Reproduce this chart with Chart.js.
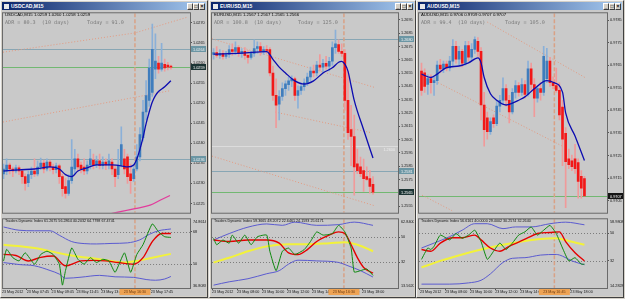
<!DOCTYPE html>
<html>
<head>
<meta charset="utf-8">
<title>USDCAD / EURUSD / AUDUSD M15</title>
<script src="https://cdn.jsdelivr.net/npm/chart.js@4.4.1/dist/chart.umd.min.js"></script>
<style>
  body { margin: 0; width: 625px; height: 299px; background: #d4d0c8; position: relative; overflow: hidden; font-family: Arial, "Liberation Sans", sans-serif; }
  .win { position: absolute; top: 0; height: 298px; box-sizing: border-box; border: 1px solid; border-color: #f4f4f4 #404040 #404040 #f4f4f4; background: #d4d0c8; }
  .title { position: absolute; left: 1px; right: 1px; top: 1px; height: 9px; box-sizing: border-box; padding-left: 9px; background: linear-gradient(90deg, #0a246a, #a6caf0); color: #fff; font-weight: bold; font-size: 5px; line-height: 9px; }
  .ico { position: absolute; left: 2px; top: 2px; width: 5px; height: 5px; background: #e8e8e8; }
  .btns { position: absolute; right: 1px; top: 1px; display: flex; }
  .btns span { width: 6px; height: 7px; box-sizing: border-box; background: #d4d0c8; border: 1px solid; border-color: #fff #404040 #404040 #fff; color: #000; font-size: 5px; line-height: 4px; text-align: center; font-weight: bold; }
  canvas { position: absolute; }
</style>
</head>
<body>
<div class="win" style="left:0;width:208px"><div class="title"><i class="ico"></i>USDCAD,M15<div class="btns"><span>_</span><span>□</span><span>×</span></div></div></div>
<div class="win" style="left:209px;width:207px"><div class="title"><i class="ico"></i>EURUSD,M15<div class="btns"><span>_</span><span>□</span><span>×</span></div></div></div>
<div class="win" style="left:416px;width:208px"><div class="title"><i class="ico"></i>AUDUSD,M15<div class="btns"><span>_</span><span>□</span><span>×</span></div></div></div>

<canvas id="p1" width="204" height="206" style="left:2px;top:10px"></canvas>
<canvas id="i1" width="204" height="80" style="left:2px;top:216px"></canvas>
<canvas id="p2" width="203" height="206" style="left:211px;top:10px"></canvas>
<canvas id="i2" width="203" height="80" style="left:211px;top:216px"></canvas>
<canvas id="p3" width="205" height="206" style="left:418px;top:10px"></canvas>
<canvas id="i3" width="205" height="80" style="left:418px;top:216px"></canvas>

<script>
// ---- USDCAD M15 ----
const cadOpen = [1.02324,1.02331,1.02346,1.02336,1.02331,1.02339,1.02331,1.02317,1.02302,1.02322,
  1.02331,1.02324,1.02341,1.02351,1.02336,1.02353,1.02341,1.02334,1.02344,1.02317,
  1.02292,1.02275,1.02307,1.02336,1.02361,1.02346,1.02341,1.02331,1.02346,1.02358,
  1.02346,1.02356,1.02344,1.02353,1.02346,1.02353,1.02336,1.02322,1.02346,1.02361,
  1.02366,1.02324,1.02312,1.02336,1.02366,1.02414,1.02478,1.02507,1.02527,1.02585,
  1.02600,1.02585,1.02597,1.02595,1.02592];
const cadHigh = [1.02348,1.02361,1.02351,1.02341,1.02346,1.02344,1.02336,1.02324,1.02331,1.02341,
  1.02361,1.02356,1.02363,1.02358,1.02361,1.02358,1.02348,1.02351,1.02348,1.02324,
  1.02312,1.02322,1.02409,1.02385,1.02373,1.02353,1.02361,1.02356,1.02385,1.02373,
  1.02368,1.02373,1.02366,1.02361,1.02373,1.02361,1.02346,1.02385,1.02441,1.02385,
  1.02373,1.02348,1.02348,1.02397,1.02439,1.02507,1.02556,1.02610,1.02697,1.02673,
  1.02617,1.02649,1.02610,1.02602,1.02595];
const cadLow = [1.02312,1.02322,1.02324,1.02317,1.02326,1.02322,1.02300,1.02283,1.02292,1.02312,
  1.02317,1.02319,1.02334,1.02326,1.02331,1.02331,1.02324,1.02326,1.02300,1.02268,
  1.02263,1.02270,1.02300,1.02324,1.02331,1.02326,1.02322,1.02324,1.02336,1.02336,
  1.02339,1.02336,1.02336,1.02334,1.02336,1.02322,1.02292,1.02312,1.02341,1.02324,
  1.02300,1.02275,1.02305,1.02331,1.02356,1.02405,1.02458,1.02492,1.02517,1.02561,
  1.02575,1.02580,1.02580,1.02583,1.02585];
const cadClose = [1.02336,1.02346,1.02336,1.02331,1.02339,1.02331,1.02317,1.02300,1.02322,1.02331,
  1.02324,1.02341,1.02351,1.02336,1.02353,1.02341,1.02334,1.02344,1.02317,1.02287,
  1.02275,1.02307,1.02341,1.02361,1.02341,1.02336,1.02331,1.02346,1.02361,1.02346,
  1.02356,1.02344,1.02353,1.02346,1.02356,1.02336,1.02317,1.02346,1.02397,1.02336,
  1.02317,1.02307,1.02336,1.02366,1.02422,1.02478,1.02519,1.02588,1.02634,1.02605,
  1.02585,1.02600,1.02588,1.02590,1.02590];
const cadMaX = [0,5,10,15,18,20,22,24,27,30,35,38,40,42,43,44,45,46,47,48,49,50,52,54];
const cadMa = [1.02331,1.02334,1.02336,1.02341,1.02336,1.02322,1.02317,1.02331,1.02339,1.02346,1.02346,1.02344,
  1.02341,1.02346,1.02361,1.02385,1.02414,1.02449,1.02478,1.02503,1.02519,1.02529,1.02541,1.02556];
const cadPinkX = [33, 42.4, 47.3, 50.5, 53.7];
const cadPink = [1.02222, 1.02237, 1.02246, 1.02258, 1.02270];
const cadTrendX = [[-0.16, 42.4, 59.2], [-0.16, 53.7]];
const cadTrendY = [[1.02627, 1.02675, 1.02714], [1.02453, 1.02531]];
const cadTicks = [1.0225, 1.0230, 1.0235, 1.0240, 1.0245, 1.0250, 1.0255, 1.0260, 1.0265, 1.0270];
const cadLevels = [1.02635, 1.02361];
const cadUpX = [0,5,10,15,18,22,26,30,35,40,44,47,50,54];
const cadUp = [70.6,68.8,68.5,68.5,66,62.5,61.4,61.2,61.5,61.8,63.5,66.5,68.5,69.5];
const cadDnX = [0,5,10,15,18,20,25,31,36,42,46,49,52,54];
const cadDn = [50.9,49.8,49.1,46.5,44.5,42.2,42.8,43.8,43.0,42.7,41.5,41.1,41.8,43.2];
const cadBaseX = [0,10,20,31,39,43,48,54];
const cadBase = [60.8,59.0,55.4,52.7,50.9,51.8,53.6,55.7];
const cadSigX = [0,4,8,12,16,20,25,29,33,37,42,45,48,51,54];
const cadSig = [55.4,54.8,51.8,53.8,54.5,49.1,51.8,52.1,51.8,50.9,50.0,53.6,62.5,67.0,67.0];
const cadRsiX = [0,1,3,5,7,10,12,14,16,18,19,20,22,24,26,28,30,32,34,36,39,41,43,45,48,50,52,54];
const cadRsi = [51.8,58.2,53.6,51.8,56.3,50.0,55.4,57.2,55.4,50.0,38.4,46.5,59.0,52.7,50.0,53.6,50.9,52.7,51.8,45.5,
  56.3,45.5,55.4,60.8,72.3,67.9,65.2,64.8];
const cadTdiLevels = [50, 68];
const cadTimes = ['23 May 2012','23 May 07:45','23 May 09:45','23 May 11:45','23 May 13:45','23 May 15:45','23 May 17:45'];

// ---- EURUSD M15 ----
const eurOpen = [1.26690,1.26705,1.26683,1.26698,1.26676,1.26690,1.26727,1.26713,1.26742,1.26698,
  1.26713,1.26683,1.26668,1.26698,1.26735,1.26749,1.26713,1.26727,1.26727,1.26551,
  1.26382,1.26316,1.26374,1.26433,1.26463,1.26492,1.26507,1.26382,1.26419,1.26448,
  1.26477,1.26521,1.26566,1.26551,1.26610,1.26595,1.26624,1.26602,1.26639,1.26742,
  1.26764,1.26713,1.26698,1.26345,1.26125,1.26073,1.25867,1.25845,1.25816,1.25772,
  1.25757,1.25713];
const eurHigh = [1.26735,1.26749,1.26727,1.26720,1.26713,1.26757,1.26771,1.26786,1.26757,1.26735,
  1.26742,1.26720,1.26713,1.26801,1.26786,1.26779,1.26749,1.26757,1.26742,1.26602,
  1.26507,1.26419,1.26477,1.26492,1.26521,1.26529,1.26521,1.26455,1.26477,1.26507,
  1.26551,1.26595,1.26610,1.26639,1.26690,1.26654,1.26676,1.26668,1.26786,1.26874,
  1.26801,1.26771,1.26727,1.26566,1.26308,1.26235,1.25978,1.25919,1.25904,1.25845,
  1.25816,1.25772];
const eurLow = [1.26654,1.26668,1.26661,1.26654,1.26661,1.26668,1.26683,1.26690,1.26676,1.26668,
  1.26654,1.26624,1.26654,1.26676,1.26698,1.26683,1.26690,1.26698,1.26529,1.26345,
  1.26139,1.26198,1.26345,1.26382,1.26419,1.26448,1.26345,1.26286,1.26389,1.26419,
  1.26455,1.26492,1.26521,1.26529,1.26566,1.26551,1.26580,1.26566,1.26610,1.26698,
  1.26698,1.26676,1.26272,1.26051,1.25853,1.25632,1.25794,1.25772,1.25661,1.25742,
  1.25647,1.25639];
const eurClose = [1.26705,1.26683,1.26698,1.26676,1.26690,1.26727,1.26713,1.26742,1.26698,1.26713,
  1.26683,1.26668,1.26698,1.26735,1.26749,1.26713,1.26727,1.26720,1.26551,1.26382,
  1.26308,1.26374,1.26433,1.26470,1.26492,1.26507,1.26382,1.26419,1.26448,1.26477,
  1.26521,1.26566,1.26551,1.26610,1.26595,1.26624,1.26602,1.26639,1.26742,1.26771,
  1.26713,1.26698,1.26345,1.26102,1.26073,1.25845,1.25816,1.25794,1.25757,1.25750,
  1.25698,1.25654];
const eurMaX = [0,9,17,19,21,23,26,29,32,35,38,40,41,42,43,44,45,48,51];
const eurMa = [1.26693,1.26700,1.26712,1.26654,1.26595,1.26551,1.26492,1.26468,1.26492,1.26551,
  1.26590,1.26632,1.26639,1.26617,1.26565,1.26455,1.26345,1.26124,1.25911];
const eurTrendX = [[-0.5, 51.7], [19.7, 50.4], [-0.5, 51.7]];
const eurTrendY = [[1.26808, 1.26441], [1.26257, 1.26102], [1.25926, 1.25551]];
const eurTicks = [1.2555, 1.2565, 1.2575, 1.2585, 1.2595, 1.2605, 1.2615, 1.2625, 1.2635, 1.2645,
  1.2655, 1.2665, 1.2675, 1.2685, 1.2695];
const eurLevels = [1.26803, 1.25811];
const eurRound = 1.2600;
const eurUpX = [0,5,11,17,22,26,33,40,45,51];
const eurUp = [48,52.6,57.2,59.5,58.5,60.8,58.5,59,60.8,58.5];
const eurDnX = [0,5,11,17,21,24,27,33,40,43,47,51];
const eurDn = [15.6,18,20.2,23.8,26,30.7,33.5,33,31.9,29.5,26,21.4];
const eurBaseX = [0,5,11,17,24,30,37,42,46,51];
const eurBase = [31.9,35.3,39.9,43.4,45,45,45.7,46.4,44.6,39.9];
const eurSigX = [0,5,11,17,21,24,27,30,33,37,40,42,44,46,48,51];
const eurSig = [48,46.9,48,48,45.7,38.8,37.6,41.1,46.9,51.5,53.8,52.6,44.6,35.3,28.3,24.2];
const eurRsiX = [0,1,3,5,6,8,10,12,14,17,18,20,22,24,26,29,31,33,35,38,40,42,44,45,47,49,51];
const eurRsi = [49.2,44.6,48,45.7,51.5,45.7,51.5,44.6,50.3,51.5,39.9,26,39.9,42.2,37.6,41.1,46.9,53.8,51.5,52.6,
  58.5,53.8,42.2,25,26,27.2,22.6];
const eurTdiLevels = [32, 50];
const eurTimes = ['23 May 2012','23 May 08:00','23 May 10:00','23 May 12:00','23 May 14:00','23 May 16:00','23 May 18:00'];

// ---- AUDUSD M15 ----
const audOpen = [0.97625,0.97617,0.97565,0.97591,0.97573,0.97582,0.97651,0.97634,0.97656,0.97638,
  0.97669,0.97734,0.97677,0.97712,0.97660,0.97738,0.97686,0.97721,0.97756,0.97712,
  0.97474,0.97417,0.97356,0.97417,0.97391,0.97469,0.97495,0.97547,0.97495,0.97443,
  0.97530,0.97560,0.97530,0.97565,0.97521,0.97634,0.97565,0.97504,0.97547,0.97530,
  0.97591,0.97669,0.97573,0.97560,0.97539,0.97465,0.97348,0.97235,0.97226,0.97235,
  0.97218,0.97157,0.97148];
const audHigh = [0.97660,0.97634,0.97608,0.97608,0.97599,0.97669,0.97677,0.97669,0.97669,0.97690,
  0.97764,0.97756,0.97734,0.97721,0.97756,0.97756,0.97747,0.97777,0.97773,0.97729,
  0.97530,0.97443,0.97417,0.97430,0.97495,0.97517,0.97595,0.97565,0.97517,0.97547,
  0.97582,0.97573,0.97591,0.97582,0.97669,0.97660,0.97591,0.97560,0.97573,0.97734,
  0.97725,0.97686,0.97599,0.97638,0.97573,0.97495,0.97374,0.97278,0.97252,0.97300,
  0.97235,0.97183,0.97157];
const audLow = [0.97517,0.97530,0.97521,0.97526,0.97517,0.97565,0.97617,0.97617,0.97625,0.97625,
  0.97643,0.97660,0.97651,0.97643,0.97651,0.97669,0.97669,0.97703,0.97690,0.97408,
  0.97291,0.97322,0.97343,0.97374,0.97382,0.97443,0.97479,0.97469,0.97395,0.97434,
  0.97504,0.97513,0.97517,0.97504,0.97513,0.97539,0.97422,0.97487,0.97495,0.97517,
  0.97573,0.97556,0.97547,0.97530,0.97408,0.97205,0.97018,0.97192,0.97183,0.97170,
  0.97061,0.97061,0.97070];
const audClose = [0.97539,0.97556,0.97591,0.97573,0.97582,0.97651,0.97634,0.97656,0.97638,0.97669,
  0.97734,0.97677,0.97712,0.97660,0.97738,0.97686,0.97721,0.97764,0.97712,0.97474,
  0.97365,0.97356,0.97400,0.97391,0.97469,0.97495,0.97547,0.97495,0.97443,0.97530,
  0.97560,0.97530,0.97565,0.97521,0.97634,0.97565,0.97504,0.97547,0.97530,0.97690,
  0.97669,0.97573,0.97560,0.97539,0.97430,0.97322,0.97222,0.97209,0.97200,0.97192,
  0.97135,0.97105,0.97071];
const audMaX = [0,3,5,8,12,15,18,19,20,22,24,27,29,31,33,36,40,42,45,46,49,52];
const audMa = [0.97611,0.97596,0.97611,0.97640,0.97647,0.97661,0.97683,0.97661,0.97596,0.97524,0.97495,
  0.97474,0.97482,0.97495,0.97510,0.97546,0.97582,0.97575,0.97531,0.97439,0.97336,0.97228];
const audTrendX = [[21.0, 52.3], [5.3, 45.0], [0.16, 9.76]];
const audTrendY = [[0.97842, 0.97595], [0.97573, 0.97291], [0.97074, 0.97005]];
const audTicks = [0.9705, 0.9715, 0.9725, 0.9735, 0.9745, 0.9755, 0.9765, 0.9775, 0.9785];
const audUpX = [0,4,9,13,17,21,26,30,35,41,46,52];
const audUp = [40.3,43.5,47.7,51.9,56.1,56.1,52.9,54,54,56.1,57.1,55.4];
const audDnX = [0,9,15,19,22,26,29,33,38,43,45,48,52];
const audDn = [16.8,16.8,17.6,19.3,23.5,30.9,33.6,34,35.7,36.1,35,31.9,29.4];
const audBaseX = [0,6,13,19,26,32,38,43,47,52];
const audBase = [27.7,31.9,36.1,39.3,42.4,44.5,46.2,46.6,44.9,42.4];
const audSigX = [0,3,6,10,13,17,19,22,25,28,31,34,37,41,44,46,49,52];
const audSig = [39.3,38.2,43.5,47,47,48.7,45.6,40.3,38.2,41.4,44.1,47,49.7,50.4,50.8,44.5,37.2,31.9];
const audRsiX = [0,2,3,4,6,9,11,13,15,17,19,21,23,25,27,29,31,33,35,37,39,41,43,45,47,49,51,52];
const audRsi = [32.9,40.3,39.3,41.4,48.7,45.6,49.7,46.6,48.7,51.9,44.5,32.9,38.2,43.5,39.3,43.5,48.7,50.8,54,48.7,
  51.9,55,49.7,40.3,31.9,34,29.8,29.8];
const audTdiLevels = [32, 50];

const timeTicks = [-0.5, 7.5, 15.5, 23.5, 31.5, 39.5, 47.5];

const bullBody = '#3f7dbd', bullWick = '#8bb0d8', bearBody = '#f21818', bearWick = '#f09a9a';
const axisFont = { family: 'Arial', size: 3.8 };
const monoFont = '5.1px "DejaVu Sans Mono", monospace';

function candles(open, high, low, close) {
  const up = i => close[i] >= open[i];
  return [
    {
      type: 'bar',
      data: open.map((o, i) => ({ x: i, y: [low[i], high[i]] })),
      backgroundColor: open.map((o, i) => up(i) ? bullWick : bearWick),
      barThickness: 1,
      grouped: false,
      order: 4
    },
    {
      type: 'bar',
      data: open.map((o, i) => ({ x: i, y: [Math.min(o, close[i]), Math.max(o, close[i])] })),
      backgroundColor: open.map((o, i) => up(i) ? bullBody : bearBody),
      barThickness: 2,
      minBarLength: 1,
      grouped: false,
      order: 3
    }
  ];
}

function line(xs, ys, color, width, extra) {
  return Object.assign({
    type: 'line',
    data: xs.map((x, i) => ({ x: x, y: ys[i] })),
    borderColor: color,
    borderWidth: width,
    pointRadius: 0,
    fill: false,
    cubicInterpolationMode: 'monotone',
    order: 1
  }, extra || {});
}

// background, horizontal/vertical lines, axis boxes and texts
function decoration(d) {
  return {
    id: 'mtDeco',
    beforeDraw(chart) {
      const { ctx, width, height } = chart;
      ctx.save();
      ctx.fillStyle = '#c9c9c9';
      ctx.fillRect(0, 0, width, height);
      ctx.restore();
    },
    beforeDatasetsDraw(chart) {
      const { ctx, chartArea: a, scales: { x, y } } = chart;
      ctx.save();
      ctx.beginPath();
      ctx.rect(a.left, a.top, a.right - a.left, a.bottom - a.top);
      ctx.clip();
      (d.hlines || []).forEach(h => {
        const py = Math.round(y.getPixelForValue(h.v)) + 0.5;
        ctx.strokeStyle = h.line;
        ctx.lineWidth = 1;
        ctx.setLineDash(h.dash || []);
        ctx.beginPath();
        ctx.moveTo(a.left, py);
        ctx.lineTo(a.right, py);
        ctx.stroke();
        if (h.label) {
          ctx.font = '3.8px Arial';
          ctx.fillStyle = h.label;
          ctx.textAlign = 'right';
          ctx.fillText(h.v.toFixed(4), a.right - 3, py + 4);
        }
      });
      if (d.vline != null) {
        const px = x.getPixelForValue(d.vline);
        ctx.strokeStyle = '#d9a185';
        ctx.lineWidth = 1.5;
        ctx.setLineDash([4, 2]);
        ctx.beginPath();
        ctx.moveTo(px, a.top);
        ctx.lineTo(px, a.bottom);
        ctx.stroke();
      }
      ctx.restore();
    },
    afterDraw(chart) {
      const { ctx, chartArea: a, scales: { x, y } } = chart;
      ctx.save();
      ctx.strokeStyle = '#6a6a6a';
      ctx.lineWidth = 1;
      ctx.strokeRect(a.left - 0.5, a.top - 0.5, a.right - a.left + 1, a.bottom - a.top + 1);
      ctx.textBaseline = 'middle';
      (d.hlines || []).filter(h => h.box).forEach(h => {
        const py = Math.round(y.getPixelForValue(h.v));
        ctx.fillStyle = h.box;
        ctx.fillRect(a.right + 1, py - 3, 15, 6);
        ctx.fillStyle = h.fg;
        ctx.font = '3.8px Arial';
        ctx.textAlign = 'left';
        ctx.fillText(h.v.toFixed(4), a.right + 3, py + 0.5);
      });
      (d.texts || []).forEach(t => {
        ctx.font = t.font;
        ctx.fillStyle = t.color;
        ctx.textAlign = 'left';
        ctx.fillText(t.text, t.x, t.y);
      });
      if (d.edge) {
        ctx.font = '3.8px Arial';
        ctx.fillStyle = '#151515';
        ctx.textAlign = 'left';
        ctx.fillText(d.edge[0], a.right + 3, a.top + 3);
        ctx.fillText(d.edge[1], a.right + 3, a.bottom - 2);
      }
      if (d.timeBox) {
        const px = x.getPixelForValue(d.vline);
        ctx.fillStyle = '#eea354';
        ctx.fillRect(px - 15.5, a.bottom + 1, 31, 6);
        ctx.fillStyle = '#6b3a10';
        ctx.font = '3.7px Arial';
        ctx.textAlign = 'center';
        ctx.fillText(d.timeBox, px, a.bottom + 4.3);
      }
      ctx.restore();
    }
  };
}

function priceChart(id, s) {
  const sets = candles(s.open, s.high, s.low, s.close);
  s.trendX.forEach((xs, k) => {
    sets.push(line(xs, s.trendY[k], '#e49a80', 1, { borderDash: [1, 2], cubicInterpolationMode: 'default', tension: 0, order: 5 }));
  });
  sets.push(line(s.maX, s.ma, '#0c0cb0', 1.3));
  if (s.pinkX) sets.push(line(s.pinkX, s.pink, '#e23c9c', 1.3));
  return new Chart(document.getElementById(id), {
    type: 'bar',
    data: { datasets: sets },
    options: {
      responsive: false,
      animation: false,
      events: [],
      layout: { padding: { left: 1, top: 1, right: 0, bottom: 1 } },
      scales: {
        x: { type: 'linear', min: s.xMin, max: s.xMax, offset: false, display: false },
        y: {
          position: 'right',
          min: s.yMin,
          max: s.yMax,
          afterBuildTicks: sc => { sc.ticks = s.ticks.map(v => ({ value: v })); },
          afterFit: sc => { sc.width = 16; },
          ticks: { color: '#151515', font: axisFont, padding: 1, autoSkip: false, callback: v => v.toFixed(4) },
          grid: { drawOnChartArea: false, tickLength: 2, color: '#555' },
          border: { display: false }
        }
      },
      plugins: { legend: { display: false }, tooltip: { enabled: false } }
    },
    plugins: [decoration(s.deco)]
  });
}

function tdiChart(id, s) {
  const sets = [
    line(s.upX, s.up, '#5b5bd0', 1, { order: 4 }),
    line(s.dnX, s.dn, '#5b5bd0', 1, { order: 4 }),
    line(s.baseX, s.base, '#f2f23a', 2, { order: 3 }),
    line(s.sigX, s.sig, '#e40000', 1.4, { order: 2 }),
    line(s.rsiX, s.rsi, '#0f8a0f', 1, { order: 1, cubicInterpolationMode: 'default', tension: 0.15 })
  ];
  return new Chart(document.getElementById(id), {
    type: 'line',
    data: { datasets: sets },
    options: {
      responsive: false,
      animation: false,
      events: [],
      layout: { padding: { left: 1, top: 1, right: 0, bottom: 0 } },
      scales: {
        x: {
          type: 'linear',
          min: s.xMin,
          max: s.xMax,
          offset: false,
          afterBuildTicks: sc => { sc.ticks = timeTicks.map(v => ({ value: v })); },
          afterFit: sc => { sc.height = 8; },
          ticks: { color: '#151515', font: { family: 'Arial', size: 3.7 }, padding: 0, align: 'start', autoSkip: false, maxRotation: 0, callback: (v, i) => s.times[i] },
          grid: { drawOnChartArea: false, tickLength: 2, color: '#555' },
          border: { display: false }
        },
        y: {
          position: 'right',
          min: s.yMin,
          max: s.yMax,
          afterBuildTicks: sc => { sc.ticks = s.levels.map(v => ({ value: v })); },
          afterFit: sc => { sc.width = 16; },
          ticks: { color: '#151515', font: axisFont, padding: 1, autoSkip: false, callback: v => String(v) },
          grid: { drawOnChartArea: false, tickLength: 2, color: '#555' },
          border: { display: false }
        }
      },
      plugins: { legend: { display: false }, tooltip: { enabled: false } }
    },
    plugins: [decoration(s.deco)]
  });
}

const steel = { line: '#88a6b4', box: '#6b96a4', fg: '#f2f2f2' };

priceChart('p1', {
  open: cadOpen, high: cadHigh, low: cadLow, close: cadClose,
  maX: cadMaX, ma: cadMa, pinkX: cadPinkX, pink: cadPink,
  trendX: cadTrendX, trendY: cadTrendY, ticks: cadTicks,
  xMin: -0.16, xMax: 60.16, yMin: 1.02227, yMax: 1.02724,
  deco: {
    vline: 42.4,
    hlines: [
      Object.assign({ v: cadLevels[0] }, steel),
      Object.assign({ v: cadLevels[1] }, steel),
      { v: cadClose[cadClose.length - 1], line: '#72b872', box: '#1c3434', fg: '#ffffff' }
    ],
    texts: [
      { text: 'USDCAD,M15 1.0259 1.0260 1.0258 1.0259', x: 3, y: 4.5, font: '4.3px Arial', color: '#000' },
      { text: 'ADR = 80.3  (10 days)', x: 3, y: 12.5, font: monoFont, color: '#7a7a7a' },
      { text: 'Today = 91.0', x: 85, y: 12.5, font: monoFont, color: '#7a7a7a' }
    ]
  }
});
tdiChart('i1', {
  upX: cadUpX, up: cadUp, dnX: cadDnX, dn: cadDn, baseX: cadBaseX, base: cadBase,
  sigX: cadSigX, sig: cadSig, rsiX: cadRsiX, rsi: cadRsi,
  levels: cadTdiLevels, times: cadTimes,
  xMin: -0.16, xMax: 60.16, yMin: 36.8083, yMax: 74.8614,
  deco: {
    vline: 42.4,
    timeBox: '23 May 16:30',
    edge: ['74.8614', '36.8083'],
    hlines: cadTdiLevels.map(v => ({ v: v, line: '#7c7c7c', dash: [1, 2] })),
    texts: [{ text: 'Traders Dynamic Index 61.2675 56.2864 40.2032 64.7798 67.4741', x: 3, y: 4.5, font: '3.7px Arial', color: '#111' }]
  }
});

priceChart('p2', {
  open: eurOpen, high: eurHigh, low: eurLow, close: eurClose,
  maX: eurMaX, ma: eurMa,
  trendX: eurTrendX, trendY: eurTrendY, ticks: eurTicks,
  xMin: -0.5, xMax: 59.0, yMin: 1.2550, yMax: 1.2700,
  deco: {
    vline: 41.7,
    hlines: [
      Object.assign({ v: eurLevels[0] }, steel),
      Object.assign({ v: eurLevels[1] }, steel),
      { v: eurRound, line: '#dcdcdc', label: '#eeeeee' },
      { v: eurClose[eurClose.length - 1], line: '#72b872', box: '#1c3434', fg: '#ffffff' }
    ],
    texts: [
      { text: 'EURUSD,M15 1.2567 1.2567 1.2565 1.2566', x: 3, y: 4.5, font: '4.3px Arial', color: '#000' },
      { text: 'ADR = 100.8  (10 days)', x: 3, y: 12.5, font: monoFont, color: '#7a7a7a' },
      { text: 'Today = 125.0', x: 87, y: 12.5, font: monoFont, color: '#7a7a7a' }
    ]
  }
});
tdiChart('i2', {
  upX: eurUpX, up: eurUp, dnX: eurDnX, dn: eurDn, baseX: eurBaseX, base: eurBase,
  sigX: eurSigX, sig: eurSig, rsiX: eurRsiX, rsi: eurRsi,
  levels: eurTdiLevels, times: eurTimes,
  xMin: -0.5, xMax: 59.0, yMin: 13.562, yMax: 62.84,
  deco: {
    vline: 41.7,
    timeBox: '23 May 16:30',
    edge: ['62.8400', '13.5620'],
    hlines: eurTdiLevels.map(v => ({ v: v, line: '#7c7c7c', dash: [1, 2] })),
    texts: [{ text: 'Traders Dynamic Index 59.3665 48.2072 22.6461 24.1593 25.6171', x: 3, y: 4.5, font: '3.7px Arial', color: '#111' }]
  }
});

priceChart('p3', {
  open: audOpen, high: audHigh, low: audLow, close: audClose,
  maX: audMaX, ma: audMa,
  trendX: audTrendX, trendY: audTrendY, ticks: audTicks,
  xMin: -0.8, xMax: 59.2, yMin: 0.96996, yMax: 0.97881,
  deco: {
    vline: 42.4,
    hlines: [
      { v: audClose[audClose.length - 1], line: '#72b872', box: '#141414', fg: '#ffffff' }
    ],
    texts: [
      { text: 'AUDUSD,M15 0.9706 0.9709 0.9707 0.9707', x: 3, y: 4.5, font: '4.3px Arial', color: '#000' },
      { text: 'ADR = 99.4  (10 days)', x: 3, y: 12.5, font: monoFont, color: '#7a7a7a' },
      { text: 'Today = 105.0', x: 87, y: 12.5, font: monoFont, color: '#7a7a7a' }
    ]
  }
});
tdiChart('i3', {
  upX: audUpX, up: audUp, dnX: audDnX, dn: audDn, baseX: audBaseX, base: audBase,
  sigX: audSigX, sig: audSig, rsiX: audRsiX, rsi: audRsi,
  levels: audTdiLevels, times: eurTimes,
  xMin: -0.8, xMax: 59.2, yMin: 14.2828, yMax: 58.9808,
  deco: {
    vline: 42.4,
    timeBox: '23 May 16:45',
    edge: ['58.9808', '14.2828'],
    hlines: audTdiLevels.map(v => ({ v: v, line: '#7c7c7c', dash: [1, 2] })),
    texts: [{ text: 'Traders Dynamic Index 56.6161 40.0000 29.4002 30.2574 32.2640', x: 3, y: 4.5, font: '3.7px Arial', color: '#111' }]
  }
});
</script>
</body>
</html>
